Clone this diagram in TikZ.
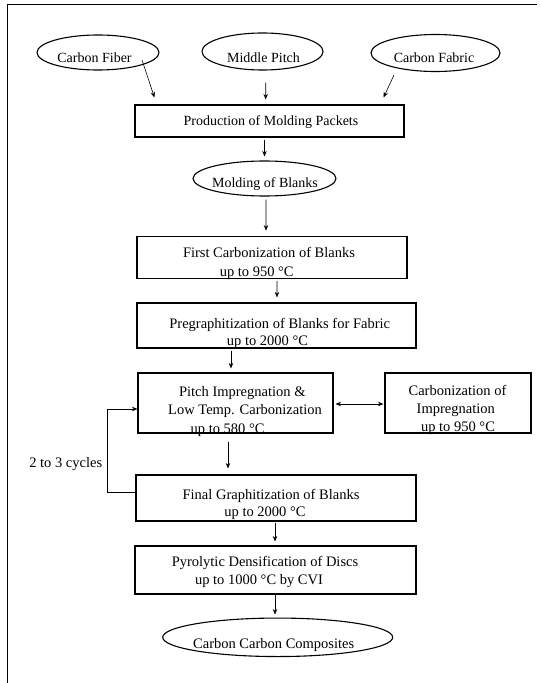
\documentclass[tikz,border=0pt]{standalone}
\usepackage{fontspec}
\setmainfont{Liberation Serif}
\usetikzlibrary{shapes.geometric,arrows.meta,calc}
\begin{document}
\begin{tikzpicture}[x=1bp,y=-1bp,
  boxn/.style={draw=black, line width=1.1bp, rectangle, inner sep=0pt},
  elln/.style={draw=black, line width=1.1bp, ellipse, inner sep=0pt},
  txt/.style={font=\fontsize{14.5bp}{18bp}\selectfont, inner sep=0pt, text height=9.5bp, text depth=3bp},
  txts/.style={txt, font=\fontsize{14bp}{18bp}\selectfont},
  arr/.style={-{Stealth[length=5.5bp,width=4.5bp]}, line width=0.6bp},
  darr/.style={{Stealth[length=5.5bp,width=4.5bp]}-{Stealth[length=5.5bp,width=4.5bp]}, line width=0.6bp}]
\useasboundingbox (0,0) rectangle (542,683);
% frame
\draw[line width=1bp] (7,683) -- (7,4.7) -- (537,4.7);

% top ellipses
\node[elln, minimum width=122bp, minimum height=35bp] (cf) at (98,52.5) {};
\node[txts] (tcf) at (94.5,59) {Carbon Fiber};
\node[elln, minimum width=121bp, minimum height=37bp] (mp) at (262.5,51.5) {};
\node[txts] (tmp) at (263.5,59) {Middle Pitch};
\node[elln, minimum width=129bp, minimum height=37bp] (cfab) at (435.5,53) {};
\node[txts] (tcfab) at (434,59) {Carbon Fabric};

% production
\node[boxn, minimum width=269bp, minimum height=32bp] (prod) at (269.5,121) {};
\node[txts] (tprod) at (271,122) {Production of Molding Packets};

% molding
\node[elln, minimum width=143bp, minimum height=35bp] (mob) at (264.5,178.5) {};
\node[txts] (tmob) at (265,184) {Molding of Blanks};

% first carbonization
\node[boxn, minimum width=270bp, minimum height=41.6bp] (fc) at (272,257.5) {};
\node[txt] (tfc1) at (269,254.3) {First Carbonization of Blanks};
\node[txt] (tfc2) at (256.7,273.3) {up to 950 °C};

% pregraphitization
\node[boxn, minimum width=279bp, minimum height=45bp] (pg) at (276.5,325.5) {};
\node[txt] (tpg1) at (279.7,325) {Pregraphitization of Blanks for Fabric};
\node[txt] (tpg2) at (267.5,342.3) {up to 2000 °C};

% pitch impregnation
\node[boxn, minimum width=195bp, minimum height=60bp] (pi) at (235.5,403) {};
\node[txt] (tpi1) at (242.3,393.3) {Pitch Impregnation \&};
\node[txt] (tpi2) at (245,411.7) {Low Temp. Carbonization};
\node[txt] (tpi3) at (227.6,430) {up to 580 °C};

% carbonization of impregnation
\node[boxn, minimum width=146bp, minimum height=60bp] (ci) at (458,403) {};
\node[txt] (tci1) at (457.5,392) {Carbonization of};
\node[txt] (tci2) at (455.8,410) {Impregnation};
\node[txt] (tci3) at (458,428) {up to 950 °C};

% final graphitization
\node[boxn, minimum width=280bp, minimum height=46bp] (fg) at (276,498) {};
\node[txt] (tfg1) at (271,496.7) {Final Graphitization of Blanks};
\node[txt] (tfg2) at (265,513.3) {up to 2000 °C};

% pyrolytic
\node[boxn, minimum width=281bp, minimum height=48bp] (py) at (275.5,570) {};
\node[txt] (tpy1) at (265,563.3) {Pyrolytic Densification of Discs};
\node[txt] (tpy2) at (259,581.7) {up to 1000 °C by CVI};

% final product
\node[elln, minimum width=230bp, minimum height=38.5bp] (ccc) at (277.7,637.3) {};
\node[txt] (tccc) at (273.7,645) {Carbon Carbon Composites};

% cycles label
\node[txt] (tcyc) at (65.7,464) {2 to 3 cycles};

% connectors
\draw[arr] ($(cf.center)+(44,7.5)$) -- ($(prod.north west)+(20,-7)$);
\draw[arr] ($(mp.south)+(3.2,12)$) -- ($(prod.north)+(-3.8,-5)$);
\draw[arr] ($(cfab.center)+(-41.5,22)$) -- ($(prod.north east)+(-21,-7)$);
\draw[arr] ($(prod.south)+(-5,2)$) -- ($(mob.north)+(0,-4)$);
\draw[arr] ($(mob.south)+(1.5,3)$) -- ($(fc.north)+(-6,-5.5)$);
\draw[arr] ($(fc.south)+(5,2)$) -- ($(pg.north)+(0.5,-5)$);
\draw[arr] ($(pg.south)+(-45.5,2)$) -- ($(pi.north)+(-4.5,-4)$);
\draw[darr] ($(pi.east)+(2,1)$) -- ($(ci.west)+(-1,1)$);
\draw[arr] ($(pi.south)+(-7.5,8)$) -- ($(fg.north)+(-48,-6)$);
\draw[arr] ($(fg.south)+(-1,1)$) -- ($(py.north)+(-0.5,-4)$);
\draw[arr] ($(py.south)+(-0.5,0.5)$) -- ($(ccc.north)+(-2.7,-3)$);
\draw[arr] ($(fg.west)+(0,-6)$) -- ++(-28,0) |- ($(pi.west)+(0,6)$);
\end{tikzpicture}
\end{document}
